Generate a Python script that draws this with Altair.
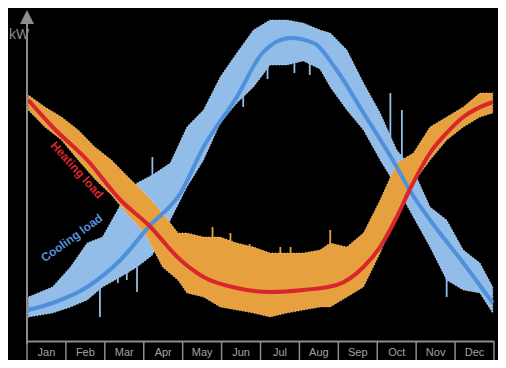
import altair as alt
import pandas as pd

months = ["Jan", "Feb", "Mar", "Apr", "May", "Jun", "Jul", "Aug", "Sep", "Oct", "Nov", "Dec"]

# smooth fitted curves (day of year, kW)
cool_line_day = [1, 20, 47, 73, 95, 120, 138, 164, 184, 206, 224, 242, 263, 289, 299, 315, 341, 364]
cool_line_kw = [31, 38, 54, 81, 114, 148, 194, 244, 288, 303, 298, 271, 228, 174, 151, 121, 78, 38]
heat_line_day = [1, 20, 47, 73, 95, 120, 138, 164, 190, 216, 242, 263, 276, 289, 299, 315, 328, 341, 364]
heat_line_kw = [241, 214, 181, 141, 116, 81, 64, 53, 49, 51, 56, 74, 94, 124, 151, 188, 208, 224, 239]

# scatter clouds, read as upper / lower envelopes
cool_band_day = [1, 20, 34, 47, 59, 73, 86, 98, 112, 125, 138, 151, 164, 177, 190, 203, 216, 229, 237, 250, 263, 276, 289, 302, 315, 328, 341, 354, 364]
cool_band_hi = [44, 54, 74, 98, 104, 136, 158, 166, 178, 214, 231, 264, 288, 311, 321, 321, 318, 311, 308, 291, 258, 228, 191, 171, 134, 121, 91, 78, 54]
cool_band_lo = [24, 28, 34, 41, 54, 64, 74, 86, 121, 154, 181, 218, 238, 254, 276, 276, 280, 272, 254, 231, 211, 181, 154, 124, 94, 61, 51, 48, 28]
heat_band_day = [1, 14, 27, 40, 53, 66, 79, 92, 106, 118, 125, 138, 151, 164, 177, 190, 203, 216, 229, 237, 250, 263, 276, 289, 302, 315, 328, 341, 354, 364]
heat_band_hi = [246, 234, 224, 211, 194, 181, 164, 148, 128, 108, 108, 104, 104, 98, 94, 88, 88, 88, 91, 98, 94, 108, 141, 178, 188, 214, 224, 234, 248, 248]
heat_band_lo = [231, 214, 201, 181, 162, 146, 126, 108, 74, 61, 48, 44, 34, 31, 28, 24, 28, 31, 34, 34, 44, 54, 88, 128, 158, 181, 201, 214, 224, 228]

# stray spikes of the scatter clouds
cool_spike_day = [57, 71, 78, 86, 98, 169, 188, 209, 221, 284, 293, 328]
cool_spike_lo = [24, 58, 61, 49, 150, 234, 262, 268, 266, 200, 180, 44]
cool_spike_hi = [61, 75, 80, 74, 184, 245, 276, 280, 280, 248, 231, 64]
heat_spike_day = [145, 159, 174, 198, 206, 237]
heat_spike_lo = [100, 95, 85, 84, 84, 95]
heat_spike_hi = [114, 108, 97, 94, 94, 111]

FONT = "Liberation Sans Narrow, Arial Narrow, Liberation Sans, sans-serif"
XS = alt.Scale(domain=[0, 365], nice=False, zero=False)
YS = alt.Scale(domain=[0, 331], nice=False, zero=False)

cool_band = pd.DataFrame({"day": cool_band_day, "hi": cool_band_hi, "lo": cool_band_lo})
heat_band = pd.DataFrame({"day": heat_band_day, "hi": heat_band_hi, "lo": heat_band_lo})
cool_line = pd.DataFrame({"day": cool_line_day, "kw": cool_line_kw})
heat_line = pd.DataFrame({"day": heat_line_day, "kw": heat_line_kw})
cool_sp = pd.DataFrame({"day": cool_spike_day, "lo": cool_spike_lo, "hi": cool_spike_hi})
heat_sp = pd.DataFrame({"day": heat_spike_day, "lo": heat_spike_lo, "hi": heat_spike_hi})
bounds = pd.DataFrame({"day": [i * 365 / 12 for i in range(13)]})
labels = pd.DataFrame({"day": [(i + 0.5) * 365 / 12 for i in range(12)], "m": months})

def band(df, color, speck):
    return alt.Chart(df).mark_area(
        color=color, opacity=1, interpolate="linear",
        stroke=speck, strokeWidth=1.2, strokeDash=[1, 2], strokeOpacity=0.7,
    ).encode(
        x=alt.X("day:Q", scale=XS, axis=None),
        y=alt.Y("lo:Q", scale=YS, axis=None),
        y2="hi:Q",
    )

def spikes(df, color):
    return alt.Chart(df).mark_rule(color=color, strokeWidth=1.8).encode(
        x=alt.X("day:Q", scale=XS, axis=None),
        y=alt.Y("lo:Q", scale=YS, axis=None),
        y2="hi:Q",
    )

def curve(df, color):
    return alt.Chart(df).mark_line(color=color, strokeWidth=4, interpolate="monotone").encode(
        x=alt.X("day:Q", scale=XS, axis=None),
        y=alt.Y("kw:Q", scale=YS, axis=None),
    )

BLUE_PTS = "#93bde9"
ORANGE_PTS = "#e6a03e"
GRAY = "#8c8c8c"

yaxis = alt.Chart(pd.DataFrame({"a": [0]})).mark_rule(color=GRAY, strokeWidth=2).encode(
    x=alt.value(0), y=alt.value(334), y2=alt.value(12))
arrow = alt.Chart(pd.DataFrame({"a": [0]})).mark_point(
    shape="M-1,1L1,1L0,-1Z", size=196, filled=True, color=GRAY, opacity=1
).encode(x=alt.value(0), y=alt.value(7))
kw = alt.Chart(pd.DataFrame({"t": ["kW"]})).mark_text(
    font=FONT, fontSize=14, color=GRAY, align="center", baseline="middle"
).encode(x=alt.value(-8), y=alt.value(25), text="t:N")
xline = alt.Chart(pd.DataFrame({"a": [0]})).mark_rule(color=GRAY, strokeWidth=2).encode(
    x=alt.value(0), x2=alt.value(467), y=alt.value(331.5))
seps = alt.Chart(bounds).mark_rule(color=GRAY, strokeWidth=1.5).encode(
    x=alt.X("day:Q", scale=XS, axis=None), y=alt.value(331), y2=alt.value(350))
mlabels = alt.Chart(labels).mark_text(
    font=FONT, fontSize=11, color="#a3a3a3", baseline="middle"
).encode(x=alt.X("day:Q", scale=XS, axis=None), y=alt.value(343), text="m:N")

heat_txt = alt.Chart(pd.DataFrame({"day": [39], "kw": [171], "t": ["Heating load"]})).mark_text(
    font=FONT, fontSize=12, fontWeight="bold", color="#d8262e", angle=48,
    align="center", baseline="middle"
).encode(x=alt.X("day:Q", scale=XS, axis=None), y=alt.Y("kw:Q", scale=YS, axis=None), text="t:N")
cool_txt = alt.Chart(pd.DataFrame({"day": [35], "kw": [103], "t": ["Cooling load"]})).mark_text(
    font=FONT, fontSize=12, fontWeight="bold", color="#5b8fd8", angle=324,
    align="center", baseline="middle"
).encode(x=alt.X("day:Q", scale=XS, axis=None), y=alt.Y("kw:Q", scale=YS, axis=None), text="t:N")

chart = alt.layer(
    band(cool_band, BLUE_PTS, "#e8f0fa"),
    spikes(cool_sp, BLUE_PTS),
    band(heat_band, ORANGE_PTS, "#f6dfb8"),
    spikes(heat_sp, ORANGE_PTS),
    curve(cool_line, "#4f8fdb"),
    curve(heat_line, "#d9262c"),
    heat_txt,
    cool_txt,
    yaxis,
    arrow,
    kw,
    xline,
    seps,
    mlabels,
).properties(
    width=467,
    height=331,
    autosize="none",
    padding={"left": 19, "top": 2, "right": 4, "bottom": 19},
    background="black",
).configure_view(stroke=None)

chart.save("out.html", embed_options={"renderer": "svg", "actions": False})
